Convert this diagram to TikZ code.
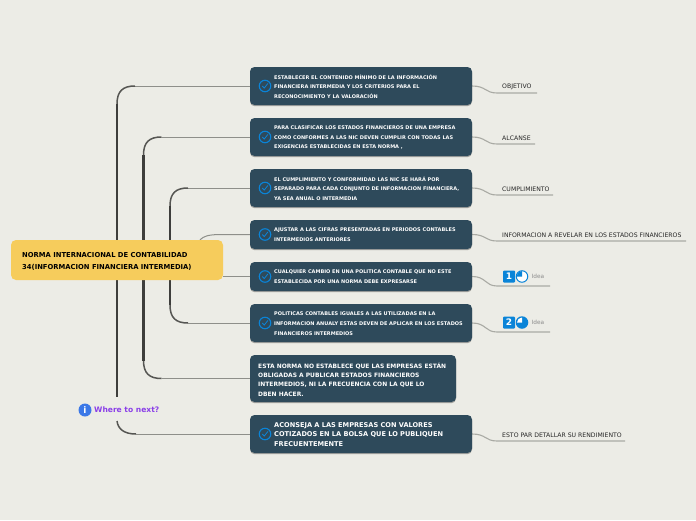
\documentclass[tikz,border=0pt]{standalone}
\usepackage{fontspec}
\setmainfont{DejaVu Sans}
\usepackage{xcolor}
\usetikzlibrary{calc,shadows,backgrounds}
\definecolor{paper}{HTML}{ECECE6}
\definecolor{slate}{HTML}{2E4A5B}
\definecolor{honey}{HTML}{F6CC5C}
\definecolor{trunkink}{HTML}{3E3E3C}
\definecolor{twigink}{HTML}{8E8F8A}
\definecolor{leafink}{HTML}{A9AAA4}
\definecolor{tickblue}{HTML}{0A84D8}
\definecolor{infoblue}{HTML}{3B78E7}
\definecolor{nextpurple}{HTML}{8A3FE8}
\tikzset{
  topicbox/.style={fill=slate,rounded corners=4.5pt,minimum width=222pt,inner sep=0pt,
                   drop shadow={shadow xshift=0pt,shadow yshift=-1.2pt,opacity=0.3,fill=black}},
  topictext/.style={text=white,font=\bfseries\fontsize{5}{9.7}\selectfont,align=left,inner sep=0pt,anchor=west},
  rootbox/.style={fill=honey,rounded corners=5pt,minimum width=212pt,minimum height=40pt,inner sep=0pt},
  roottext/.style={text=black,font=\bfseries\fontsize{6.8}{12}\selectfont,align=left,inner sep=0pt,anchor=west},
  checkring/.style={circle,draw=tickblue,line width=1.1pt,minimum size=11.5pt,inner sep=0pt},
  checkline/.style={draw=tickblue,line width=0.8pt},
  trunk/.style={draw=trunkink,line width=2.4pt},
  elbow/.style={draw=trunkink!70!twigink,line width=1.5pt},
  twig/.style={draw=twigink,line width=1pt},
  leafline/.style={draw=leafink,line width=1.1pt},
  leaftext/.style={text=black!85,font=\fontsize{6.15}{7}\selectfont,inner sep=0pt,anchor=west},
  ideasq/.style={fill=tickblue,rounded corners=1pt,minimum size=12pt,inner sep=0pt,text=white,font=\bfseries\fontsize{9}{9}\selectfont},
  ideatext/.style={text=black!45,font=\fontsize{5.8}{6}\selectfont,inner sep=0pt,anchor=west}
}
\begin{document}
\begin{tikzpicture}[x=1pt,y=-1pt]
  \useasboundingbox (0,0) rectangle (696,520);
  \node[rootbox] (root) at (117,260) {};
  \node[roottext] (roottitle) at (22,261) {NORMA INTERNACIONAL DE CONTABILIDAD\\34(INFORMACION FINANCIERA INTERMEDIA)};
  % topics
  \foreach \nm/\cy/\boxh/\txt in {%
    objetivo/86/38/{ESTABLECER EL CONTENIDO MÍNIMO DE LA INFORMACIÓN\\FINANCIERA INTERMEDIA Y LOS CRITERIOS PARA EL\\RECONOCIMIENTO Y LA VALORACIÓN},
    alcanse/137/38/{PARA CLASIFICAR LOS ESTADOS FINANCIEROS DE UNA EMPRESA\\COMO CONFORMES A LAS NIC DEVEN CUMPLIR CON TODAS LAS\\EXIGENCIAS ESTABLECIDAS EN ESTA NORMA ,},
    cumpl/188/38/{EL CUMPLIMIENTO Y CONFORMIDAD LAS NIC SE HARÁ POR\\SEPARADO PARA CADA CONJUNTO DE INFORMACION FINANCIERA,\\YA SEA ANUAL O INTERMEDIA},
    ajustar/234.5/29/{AJUSTAR A LAS CIFRAS PRESENTADAS EN PERIODOS CONTABLES\\INTERMEDIOS ANTERIORES},
    cambio/276.5/29/{CUALQUIER CAMBIO EN UNA POLITICA CONTABLE QUE NO ESTE\\ESTABLECIDA POR UNA NORMA DEBE EXPRESARSE},
    politicas/323/38/{POLITICAS CONTABLES IGUALES A LAS UTILIZADAS EN LA\\INFORMACION ANUALY ESTAS DEVEN DE APLICAR EN LOS ESTADOS\\FINANCIEROS INTERMEDIOS}}{
    \node[topicbox,minimum height=\boxh pt] (\nm) at (361,\cy) {};
    \node[checkring] (tick\nm) at (265,\cy) {};
    \draw[checkline] ($(tick\nm)+(-2.7,0)$) -- +(2,2) -- +(5.6,-2.6);
    \node[topictext] (text\nm) at (274,\cy+0.5) {\txt};
  }
  \node[topicbox,minimum width=206pt,minimum height=47pt] (norma) at (353,378.5) {};
  \node[topictext,font=\bfseries\fontsize{5.95}{9.4}\selectfont] (textnorma) at (258,379.5) {ESTA NORMA NO ESTABLECE QUE LAS EMPRESAS ESTÁN\\OBLIGADAS A PUBLICAR ESTADOS FINANCIEROS\\INTERMEDIOS, NI LA FRECUENCIA CON LA QUE LO\\DBEN HACER.};
  \node[topicbox,minimum height=38pt] (aconseja) at (361,434) {};
  \node[checkring] (tickaconseja) at (265,434) {};
  \draw[checkline] ($(tickaconseja)+(-2.7,0)$) -- +(2,2) -- +(5.6,-2.6);
  \node[topictext,font=\bfseries\fontsize{6.6}{9.2}\selectfont] (textaconseja) at (274,434.5) {ACONSEJA A LAS EMPRESAS CON VALORES\\COTIZADOS EN LA BOLSA QUE LO PUBLIQUEN\\FRECUENTEMENTE};
  % leaves
  \foreach \nm/\uy/\lab in {%
    objetivo/93/OBJETIVO,
    alcanse/144/ALCANSE,
    cumpl/195/CUMPLIMIENTO,
    ajustar/241/INFORMACION A REVELAR EN LOS ESTADOS FINANCIEROS,
    aconseja/441/ESTO PAR DETALLAR SU RENDIMIENTO}{
    \node[leaftext] (leaf\nm) at (502,\uy-6) {\lab};
  }
  \foreach \nm/\uy/\num in {cambio/286/1,politicas/332/2}{
    \node[ideasq] (num\nm) at (509,\uy-9.5) {\num};
    \node[ideatext] (idea\nm) at (531.5,\uy-9.5) {Idea};
  }
  \node[circle,draw=tickblue,line width=1pt,fill=white,minimum size=11.5pt,inner sep=0pt] (pieone) at (522,276.5) {};
  \fill[tickblue] (pieone.center) -- (522,271) arc[start angle=270,end angle=180,radius=5.5] -- cycle;
  \node[circle,fill=tickblue,minimum size=12.5pt,inner sep=0pt] (pietwo) at (522,322.5) {};
  \fill[white] (pietwo.center) -- (522,317.5) arc[start angle=270,end angle=180,radius=5] -- cycle;
  % where to next
  \node[circle,fill=infoblue,minimum size=13pt,inner sep=0pt,text=white,font=\bfseries\fontsize{9}{9}\selectfont] (infoicon) at (85,410) {i};
  \node[text=nextpurple,font=\bfseries\fontsize{7.55}{8}\selectfont,inner sep=0pt,anchor=west] (nextlabel) at (94,409.5) {Where to next?};
  % branches go behind the boxes
  \begin{pgfonlayer}{background}
    \fill[paper] (0,0) rectangle (696,520);
    \foreach \tgt/\tx/\sgn in {objetivo/117/1,alcanse/143.5/1,cumpl/170/1,politicas/170/-1,norma/143.5/-1}{
      \coordinate (turn\tgt) at ($(\tgt.west -| \tx,0)+(0,\sgn*18)$);
      \coordinate (knee\tgt) at ($(\tgt.west -| \tx,0)+(18,0)$);
      \draw[twig] (knee\tgt) -- (\tgt.west);
      \draw[elbow] (turn\tgt) .. controls +(0,-\sgn*13) and ($(knee\tgt)+(-12,0)$) .. (knee\tgt);
      \draw[trunk] (root.center -| turn\tgt) -- (turn\tgt);
    }
    \coordinate (stemend) at (117,397);
    \coordinate (stemback) at (117,421);
    \coordinate (kneeaconseja) at ($(aconseja.west -| 136,0)$);
    \draw[trunk] (root.center -| stemend) -- (stemend);
    \draw[elbow] (stemback) .. controls (118,429) and (124,434) .. (kneeaconseja);
    \draw[twig] (kneeaconseja) -- (aconseja.west);
    \coordinate (kneeajustar) at ($(ajustar.west -| 218,0)$);
    \draw[twig] (root.north -| 200,0) .. controls (204,236) and (208,235) .. (kneeajustar) -- (ajustar.west);
    \draw[twig] (root.east |- cambio.west) -- (cambio.west);
    \foreach \nm/\uy/\ux in {objetivo/93/537,alcanse/144/535,cumpl/195/553,ajustar/241/686,aconseja/441/625,cambio/286/550,politicas/332/550}{
      \coordinate (under\nm) at (\ux,\uy);
      \draw[leafline] (\nm.east) .. controls +(14,0) and (485,\uy) .. (497,\uy) -- (under\nm);
    }
  \end{pgfonlayer}
\end{tikzpicture}
\end{document}
